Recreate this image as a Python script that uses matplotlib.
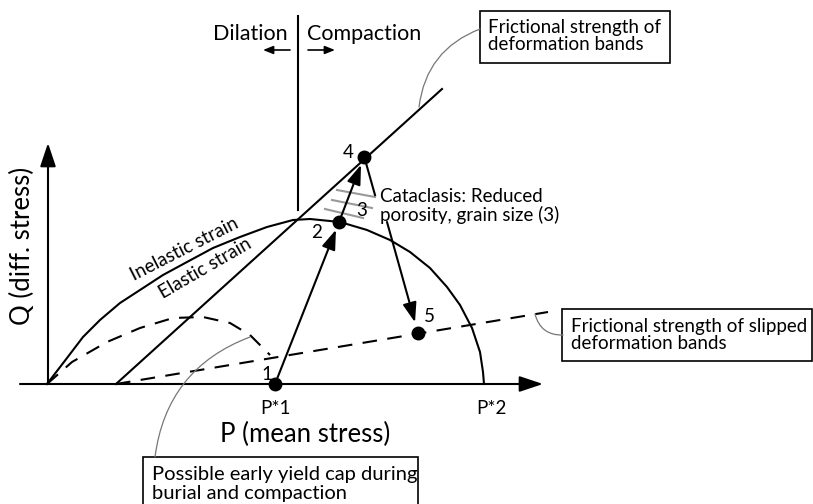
import matplotlib.pyplot as plt
from matplotlib.patches import Rectangle

plt.rcParams['font.family'] = ['Lato', 'DejaVu Sans']

# yield envelope (P, Q)
env_p = [0, 20, 36, 53, 73, 93, 116, 140, 166, 193, 220, 246, 263, 293, 320,
         343, 363, 383, 400, 413, 425, 433, 436, 437]
env_q = [0, 26, 47, 64, 81, 94, 109, 122, 136, 147, 157, 164, 165, 162, 154,
         144, 132, 116, 97, 79, 56, 32, 12, 0]

# possible early yield cap (dashed)
cap_p = [0, 25, 60, 93, 126, 156, 183, 203, 216, 223]
cap_q = [0, 22, 42, 56, 66, 67, 61, 49, 36, 29]

# frictional strength lines
fric_p = [69, 395]
fric_q = [0, 295]
slip_p = [69, 501]
slip_q = [0, 72]

# stress path points
pt_lab = ['1', '2', '4', '5']
pt_p = [228, 292, 317, 371]
pt_q = [0, 162, 227, 51]

# grey hatching around point 3
hatch_p = [[290, 328], [285, 325], [278, 316]]
hatch_q = [[194, 187], [184, 176], [175, 166]]

fig = plt.figure(figsize=(8.13, 5.04), dpi=100)
ax = fig.add_axes([0, 0, 1, 1])
ax.set_xlim(-47, 766)
ax.set_ylim(-120, 384)
ax.axis('off')


def px(x, y):
    return (x - 47, 384 - y)


lw = 1.5
fs = 13.5
# axes
ax_arr = dict(arrowstyle='-|>,head_length=0.9,head_width=0.3', color='k', lw=lw,
              mutation_scale=16, shrinkA=0, shrinkB=0)
ax.annotate('', xy=px(543, 384), xytext=px(20, 384), arrowprops=ax_arr)
ax.annotate('', xy=px(48, 143), xytext=px(48, 384), arrowprops=ax_arr)

ax.plot(env_p, env_q, color='k', lw=lw, solid_joinstyle='round')
ax.plot(cap_p, cap_q, color='k', lw=lw, ls=(0, (7, 5)))
ax.plot(fric_p, fric_q, color='k', lw=lw)
ax.plot(slip_p, slip_q, color='k', lw=lw, ls=(0, (7, 5)))

for hp, hq in zip(hatch_p, hatch_q):
    ax.plot(hp, hq, color='#999999', lw=1.5)

# dilation / compaction divider
ax.plot([251, 251], [174, 368], color='k', lw=lw)
ax.text(*px(288, 34), 'Dilation', ha='right', va='center', fontsize=15.5)
ax.text(*px(307, 34), 'Compaction', ha='left', va='center', fontsize=15.5)
small = dict(arrowstyle='-|>,head_length=0.5,head_width=0.2', color='k', lw=1.2,
             mutation_scale=12, shrinkA=0, shrinkB=0)
ax.annotate('', xy=px(263, 50), xytext=px(290, 50), arrowprops=small)
ax.annotate('', xy=px(335, 50), xytext=px(308, 50), arrowprops=small)

# stress path arrows
arr = dict(arrowstyle='-|>,head_length=0.85,head_width=0.3', color='k', lw=lw,
           mutation_scale=14, shrinkA=0)
ax.annotate('', xy=(pt_p[1], pt_q[1]), xytext=(pt_p[0], pt_q[0]), arrowprops=dict(arr, shrinkB=6))
ax.annotate('', xy=(pt_p[2], pt_q[2]), xytext=(pt_p[1], pt_q[1]), arrowprops=dict(arr, shrinkB=6))
ax.annotate('', xy=(pt_p[3], pt_q[3]), xytext=px(387, 222), arrowprops=dict(arr, shrinkB=8))
ax.plot(*zip(px(366, 163), px(375, 195)), color='k', lw=lw)

ax.plot(pt_p, pt_q, 'o', color='k', ms=9)
lab_pos = [px(267, 375), px(317, 232), px(348, 152), px(429, 317)]
for lab, pos in zip(pt_lab, lab_pos):
    ax.text(*pos, lab, ha='center', va='center', fontsize=fs)
ax.text(*px(362, 211), '3', ha='center', va='center', fontsize=fs)

ax.text(*px(380, 206), 'Cataclasis: Reduced\nporosity, grain size (3)', ha='left', va='center',
        fontsize=fs, linespacing=1.0)
ax.text(*px(184, 249), 'Inelastic strain', ha='center', va='center', fontsize=fs,
        rotation=27, rotation_mode='anchor')
ax.text(*px(205, 268), 'Elastic strain', ha='center', va='center', fontsize=fs,
        rotation=30, rotation_mode='anchor')

ax.text(*px(275, 408), 'P*1', ha='center', va='center', fontsize=fs)
ax.text(*px(491, 408), 'P*2', ha='center', va='center', fontsize=fs)
ax.text(*px(305, 434), 'P (mean stress)', ha='center', va='center', fontsize=18.5)
ax.text(*px(22, 246), 'Q (diff. stress)', ha='center', va='center', fontsize=18.5, rotation=90)

# boxes
box_kw = dict(fill=False, ec='k', lw=1.2)
ax.add_patch(Rectangle(px(480, 63), 190, 52, **box_kw))
ax.text(*px(488, 36), 'Frictional strength of\ndeformation bands', ha='left', va='center',
        fontsize=fs, linespacing=0.95)
ax.add_patch(Rectangle(px(562, 361), 250, 52, **box_kw))
ax.text(*px(571, 335), 'Frictional strength of slipped\ndeformation bands', ha='left', va='center',
        fontsize=fs, linespacing=0.95)
ax.add_patch(Rectangle(px(143, 520), 275, 63, **box_kw))
ax.text(*px(152, 484), 'Possible early yield cap during\nburial and compaction', ha='left', va='center',
        fontsize=14.5, linespacing=1.2)

lead = dict(arrowstyle='-', color='#777777', lw=0.9, shrinkA=0, shrinkB=0)
ax.annotate('', xy=px(419, 107), xytext=px(480, 29), arrowprops=dict(lead, connectionstyle='arc3,rad=0.3'))
ax.annotate('', xy=px(535, 314), xytext=px(563, 335), arrowprops=dict(lead, connectionstyle='arc3,rad=-0.4'))
ax.annotate('', xy=px(250, 337), xytext=px(155, 457), arrowprops=dict(lead, connectionstyle='arc3,rad=-0.3'))

fig.savefig('out.png', dpi=100)
